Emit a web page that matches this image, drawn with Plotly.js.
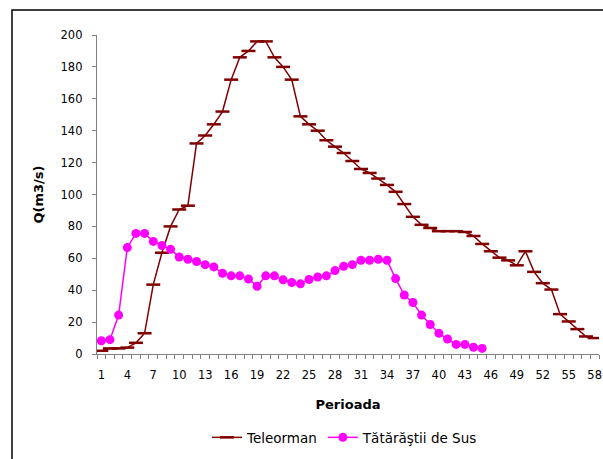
<!DOCTYPE html>
<html>
<head>
<meta charset="utf-8">
<script src="https://cdn.plot.ly/plotly-3.0.1.min.js"></script>
<style>
html,body{margin:0;padding:0;background:#fff;}
#chart{width:603px;height:459px;}
</style>
</head>
<body>
<div id="chart"></div>
<script>
const perioada = Array.from({length: 58}, (_, i) => i + 1);
const teleorman = [2, 3.5, 3.5, 4, 7, 13, 43.5, 63.5, 80, 90.6,
  93, 132, 137, 144, 152, 172, 186, 190, 196, 196,
  186, 180, 172, 149, 144, 140, 134, 130, 126, 121,
  116, 113.5, 110, 106, 101.7, 94, 86, 81, 79, 77,
  77, 77, 76.5, 74, 69, 64.4, 60.4, 58.7, 55.6, 64.4,
  51.5, 44.4, 40.4, 25, 20.4, 15.6, 11, 10];
const tatarastii = [8.3, 9, 24.4, 66.7, 75.6, 75.6, 70.6, 68, 65.6, 60.8,
  59.4, 58, 56, 54.6, 50.6, 49, 49, 47, 42.5, 49,
  49, 46.5, 44.8, 44, 46.7, 48.3, 49, 52.3, 55, 56,
  58.8, 58.8, 59.4, 58.8, 47.3, 37, 32.3, 24.4, 18.5, 13,
  9.4, 6, 6, 4.2, 3.5];
const xTickLabels = [1, 4, 7, 10, 13, 16, 19, 22, 25, 28, 31, 34, 37, 40, 43, 46, 49, 52, 55, 58];
const yTicks = [0, 20, 40, 60, 80, 100, 120, 140, 160, 180, 200];

const traces = [
  {
    x: perioada, y: teleorman, name: 'Teleorman', type: 'scatter', mode: 'lines+markers',
    line: {color: '#800000', width: 1.5},
    marker: {symbol: 'line-ew', size: 10, color: '#800000', line: {color: '#800000', width: 2.5}}
  },
  {
    x: perioada.slice(0, tatarastii.length), y: tatarastii, name: 'Tătărăştii de Sus', type: 'scatter', mode: 'lines+markers',
    line: {color: '#FF00FF', width: 1.5},
    marker: {symbol: 'circle', size: 9, color: '#FF00FF'}
  }
];

const fam = 'DejaVu Sans, Liberation Sans, Arial, sans-serif';

const layout = {
  width: 603, height: 459,
  margin: {l: 97, r: 4, t: 35, b: 105},
  paper_bgcolor: '#fff', plot_bgcolor: '#fff',
  font: {family: fam, size: 11.5, color: '#000'},
  showlegend: true,
  legend: {orientation: 'h', x: 0.494, xanchor: 'center', y: -0.262, yanchor: 'middle',
    font: {family: fam, size: 13.5, color: '#000'}, tracegroupgap: 0},
  xaxis: {
    range: [0.5, 58.5], tickmode: 'array', tickvals: xTickLabels, ticktext: xTickLabels.map(String),
    ticks: '', showgrid: false, zeroline: false, showline: true, linecolor: '#808080', linewidth: 1.2,
    minor: {tickmode: 'linear', tick0: 0.5, dtick: 1, ticks: 'outside', ticklen: 4, tickcolor: '#808080', tickwidth: 1, showgrid: false},
    tickfont: {family: fam, size: 11.5}, ticklabelstandoff: 10,
    title: {text: 'Perioada', font: {family: fam, size: 13, weight: 'bold'}, standoff: 18},
    fixedrange: true
  },
  yaxis: {
    range: [0, 200], tickmode: 'array', tickvals: yTicks,
    ticks: 'outside', ticklen: 4, tickcolor: '#808080', showgrid: false, zeroline: false,
    showline: true, linecolor: '#808080', linewidth: 1.2,
    tickfont: {family: fam, size: 11.5}, ticklabelstandoff: 7,
    title: {text: 'Q(m3/s)', font: {family: fam, size: 13, weight: 'bold'}, standoff: 14},
    fixedrange: true
  },
  shapes: [{
    type: 'rect', xref: 'paper', yref: 'paper',
    x0: (12 - 97) / 502, x1: (620 - 97) / 502,
    y0: (354 - 480) / 319, y1: (354 - 10) / 319,
    line: {color: '#000', width: 1.5}, fillcolor: 'rgba(0,0,0,0)', layer: 'below'
  }]
};

Plotly.newPlot('chart', traces, layout, {displayModeBar: false, staticPlot: true});
</script>
</body>
</html>
